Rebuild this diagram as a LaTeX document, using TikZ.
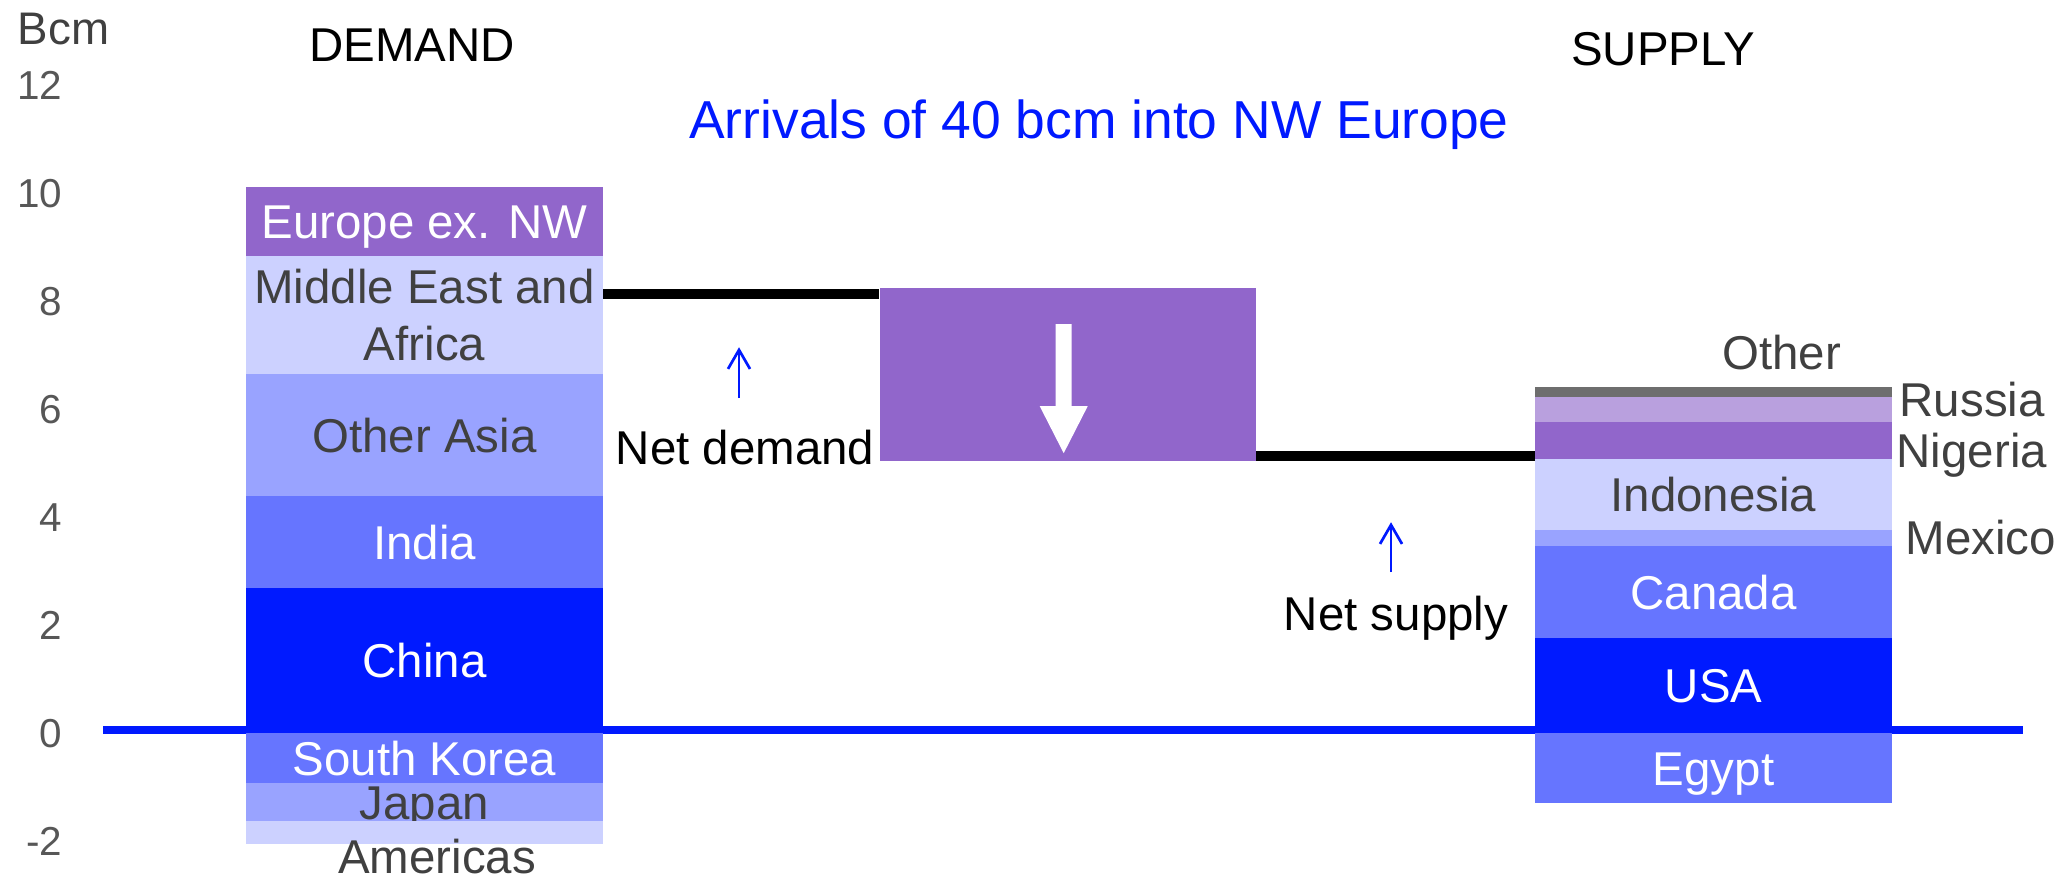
\documentclass[tikz,border=0pt]{standalone}
\usepackage{fontspec}
\setmainfont{Liberation Sans}
\usetikzlibrary{positioning,arrows.meta}
\definecolor{purp}{HTML}{9166CB}
\definecolor{lilac}{HTML}{B9A0DE}
\definecolor{pale}{HTML}{CCD1FF}
\definecolor{sky}{HTML}{99A3FF}
\definecolor{mid}{HTML}{6675FF}
\definecolor{deep}{HTML}{001AFF}
\definecolor{slate}{HTML}{6E6E6E}
\definecolor{ink}{HTML}{404040}
\definecolor{numgrey}{HTML}{575757}
\definecolor{axis}{HTML}{0019FF}

\begin{document}
\begin{tikzpicture}[x=0.1mm, y=0.1mm,
    seg/.style={rectangle, inner sep=0pt, outer sep=0pt, minimum width=35.7mm, anchor=north},
    lbl/.style={inner sep=0pt, font=\fontsize{13.5}{16}\selectfont, text height=9.7pt, text depth=0pt, text=ink},
    numlbl/.style={inner sep=0pt, anchor=east, font=\fontsize{11.5}{13}\selectfont, text height=8.2pt, text depth=0pt, text=numgrey},
    netline/.style={line width=1mm, black},
    pointer/.style={line width=0.27mm, axis, -{Straight Barb[length=1.9mm, width=2.2mm]}}]
    \useasboundingbox (0,0) rectangle (2069,878);

    \coordinate (zl) at (103,148);
    \coordinate (zr) at (2023,148);
    \draw[line width=0.77mm, axis] (zl) -- (zr);

    \node[lbl, anchor=west, font=\fontsize{13}{15}\selectfont, text height=9.3pt] (unit) at (17,850) {Bcm};
    \foreach \v in {-2,0,...,12}
        \node[numlbl] (n\v) at (63,{145+54*\v}) {\v};

    \node[lbl, text=black] (dem) at (412,834) {DEMAND};
    \node[lbl, text=black] (sup) at (1663,830) {SUPPLY};
    \node[lbl, text=axis, font=\fontsize{15.2}{18}\selectfont, text height=10.9pt] (ttl) at (1099,759) {Arrivals of 40 bcm into NW Europe};

    \node[seg, lbl, fill=purp, text=white, minimum height=6.9mm] (eur) at (424.5,691) {Europe ex. NW};
    \node[seg, fill=pale, text=ink, minimum height=11.8mm, below=0pt of eur, align=center, font=\fontsize{13.5}{16}\selectfont] (mea) {Middle East and\\Africa};
    \node[seg, lbl, fill=sky, minimum height=12.2mm, below=0pt of mea] (oas) {Other Asia};
    \node[seg, lbl, fill=mid, text=white, minimum height=9.2mm, below=0pt of oas] (ind) {India};
    \node[seg, lbl, fill=deep, text=white, minimum height=14.5mm, below=0pt of ind] (chn) {China};
    \node[seg, lbl, fill=mid, text=white, minimum height=5mm, below=0pt of chn] (kor) {South Korea};
    \node[seg, lbl, fill=sky, minimum height=3.8mm, below=0pt of kor] (jpn) {Japan};
    \node[seg, fill=pale, minimum height=2.3mm, below=0pt of jpn] (ame) {};
    \node[lbl] (amelbl) at ([shift={(12.5,-12)}]ame.south) {Americas};

    \node[seg, fill=slate, minimum height=1mm] (oth) at (1713.5,491) {};
    \node[seg, fill=lilac, minimum height=2.5mm, below=0pt of oth] (rus) {};
    \node[seg, fill=purp, minimum height=3.7mm, below=0pt of rus] (nga) {};
    \node[seg, lbl, fill=pale, minimum height=7.1mm, below=0pt of nga] (ido) {Indonesia};
    \node[seg, fill=sky, minimum height=1.6mm, below=0pt of ido] (mex) {};
    \node[seg, lbl, fill=mid, text=white, minimum height=9.2mm, below=0pt of mex] (can) {Canada};
    \node[seg, lbl, fill=deep, text=white, minimum height=9.5mm, below=0pt of can] (usa) {USA};
    \node[seg, lbl, fill=mid, text=white, minimum height=7mm, below=0pt of usa] (egy) {Egypt};

    \node[lbl] (othlbl) at ([shift={(68,35)}]oth.north) {Other};
    \node[lbl, anchor=west] (ruslbl) at ([shift={(7,10)}]rus.east) {Russia};
    \node[lbl, anchor=west] (ngalbl) at ([shift={(4,-10)}]nga.east) {Nigeria};
    \node[lbl, anchor=west] (mexlbl) at ([shift={(13,1)}]mex.east) {Mexico};

    \node[fill=purp, inner sep=0pt, minimum width=37.6mm, minimum height=17.3mm, anchor=north west] (gap) at (879,591) {};
    \fill[white] ([shift={(-12,50)}]gap.center) -- ++(16,0) -- ++(0,-82) -- ++(16,0)
        -- ++(-24,-47) -- ++(-24,47) -- ++(16,0) -- cycle;

    \coordinate (ndl) at ([yshift=-0.7mm]gap.north west);
    \coordinate (nsl) at ([yshift=0.5mm]gap.south east);
    \draw[netline] (ndl) -- (ndl -| mea.east);
    \draw[netline] (nsl) -- (nsl -| nga.west);

    \node[lbl, text=black] (nd) at (745,431) {Net demand};
    \node[lbl, text=black] (ns) at (1396,265) {Net supply};
    \draw[pointer] ([shift={(-6,31)}]nd.north) -- ++(0,51);
    \draw[pointer] ([shift={(-5,23)}]ns.north) -- ++(0,50);
\end{tikzpicture}
\end{document}
